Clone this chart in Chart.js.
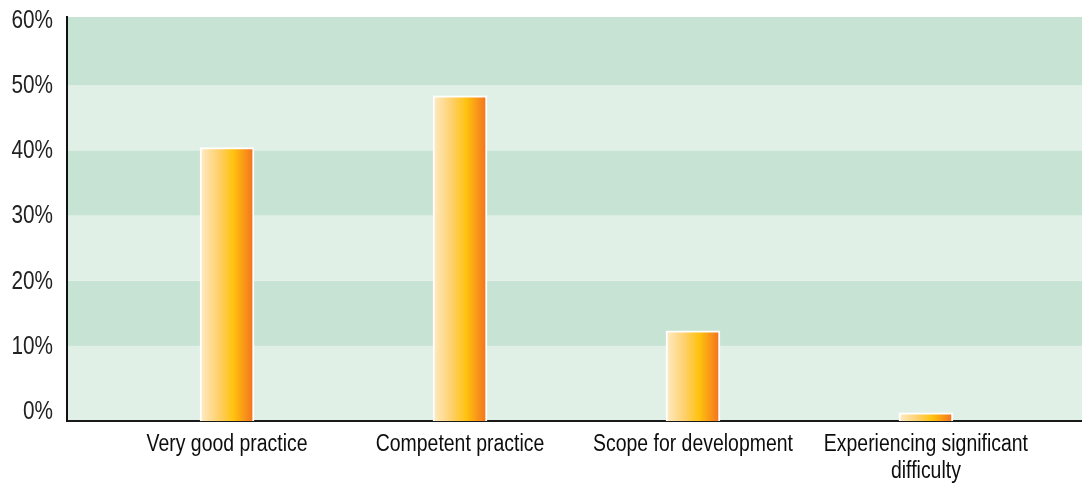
<!DOCTYPE html>
<html>
<head>
<meta charset="utf-8">
<script src="https://cdn.jsdelivr.net/npm/chart.js@4/dist/chart.umd.min.js"></script>
<style>
  html, body { margin: 0; padding: 0; background: #ffffff; }
  #wrap { width: 1082px; height: 486px; position: relative; }
</style>
</head>
<body>
<div id="wrap"><canvas id="c"></canvas></div>
<script>
const categories = [
  "Very good practice",
  "Competent practice",
  "Scope for development",
  ["Experiencing significant", "difficulty"]
];
const values = [40.6, 48.3, 13.4, 1.2];
const yTicks = [0, 10, 20, 30, 40, 50, 60];

const FONT = "'Liberation Sans', Arial, sans-serif";
const SQUEEZE_Y = 0.83;    // horizontal condensing of y label glyphs
const SQUEEZE_X = 0.845;   // horizontal condensing of x label glyphs
const BAR_W = 54;

// label / band placement helper derived from the y scale
function labelY(chart, v) {
  const y = chart.scales.y;
  const top = chart.chartArea.top;
  return top + 3 + (y.getPixelForValue(v) - top) * 0.968;
}

const bandPlugin = {
  id: 'bands',
  beforeDraw(chart) {
    const { ctx, chartArea } = chart;
    ctx.save();
    for (let i = 0; i < yTicks.length - 1; i++) {
      const lo = yTicks[i], hi = yTicks[i + 1];
      const yTop = (i === yTicks.length - 2) ? chartArea.top : labelY(chart, hi);
      const yBot = (i === 0) ? chartArea.bottom : labelY(chart, lo);
      const fromTop = yTicks.length - 2 - i;
      ctx.fillStyle = (fromTop % 2 === 0) ? '#c6e3d3' : '#e1f0e7';
      ctx.fillRect(chartArea.left, yTop, chartArea.right - chartArea.left, yBot - yTop);
    }
    ctx.restore();
  }
};

function squeezedText(ctx, text, x, y, align, sx) {
  ctx.save();
  ctx.translate(x, y);
  ctx.scale(sx, 1);
  ctx.textAlign = align;
  ctx.fillText(text, 0, 0);
  ctx.restore();
}

const labelPlugin = {
  id: 'labels',
  afterDraw(chart) {
    const { ctx, chartArea, scales } = chart;
    ctx.save();
    // y tick labels
    ctx.font = "25px " + FONT;
    ctx.fillStyle = '#222222';
    ctx.textBaseline = 'middle';
    yTicks.forEach(v => {
      squeezedText(ctx, v + '%', chartArea.left - 14, labelY(chart, v) + 1, 'right', SQUEEZE_Y);
    });
    // x category labels
    ctx.font = "23px " + FONT;
    ctx.fillStyle = '#0d0d0d';
    ctx.textBaseline = 'alphabetic';
    categories.forEach((c, i) => {
      const cx = scales.x.getPixelForValue(i);
      const lines = Array.isArray(c) ? c : [c];
      lines.forEach((ln, j) => {
        squeezedText(ctx, ln, cx, chartArea.bottom + 30 + j * 27, 'center', SQUEEZE_X);
      });
    });
    ctx.restore();
  }
};

function barGradient(context) {
  const chart = context.chart;
  const xs = chart.scales && chart.scales.x;
  if (!xs || context.parsed == null) return '#ffc20e';
  const cx = xs.getPixelForValue(context.parsed.x);
  if (!isFinite(cx)) return '#ffc20e';
  const g = chart.ctx.createLinearGradient(cx - BAR_W / 2, 0, cx + BAR_W / 2, 0);
  g.addColorStop(0, '#feebc6');
  g.addColorStop(0.35, '#fed06a');
  g.addColorStop(0.62, '#ffc20e');
  g.addColorStop(1, '#f36f21');
  return g;
}

new Chart(document.getElementById('c'), {
  type: 'bar',
  data: {
    labels: categories,
    datasets: [{
      label: 'Share',
      data: values.map((v, i) => ({ x: i, y: v })),
      backgroundColor: barGradient,
      borderColor: '#ffffff',
      borderWidth: 2,
      borderSkipped: 'bottom',
      barThickness: BAR_W
    }]
  },
  options: {
    responsive: true,
    maintainAspectRatio: false,
    animation: false,
    layout: { padding: { top: 17, left: 67, right: 0, bottom: 65 } },
    plugins: { legend: { display: false }, tooltip: { enabled: false } },
    scales: {
      x: {
        type: 'linear',
        min: -0.687,
        max: 3.67,
        offset: false,
        grid: { display: false, drawTicks: false },
        border: { display: true, color: '#1a1a1a', width: 2 },
        ticks: { display: false }
      },
      y: {
        min: 0,
        max: 60,
        grid: { display: false, drawTicks: false },
        border: { display: true, color: '#111111', width: 2 },
        ticks: { display: false, stepSize: 10 }
      }
    }
  },
  plugins: [bandPlugin, labelPlugin]
});
</script>
</body>
</html>
